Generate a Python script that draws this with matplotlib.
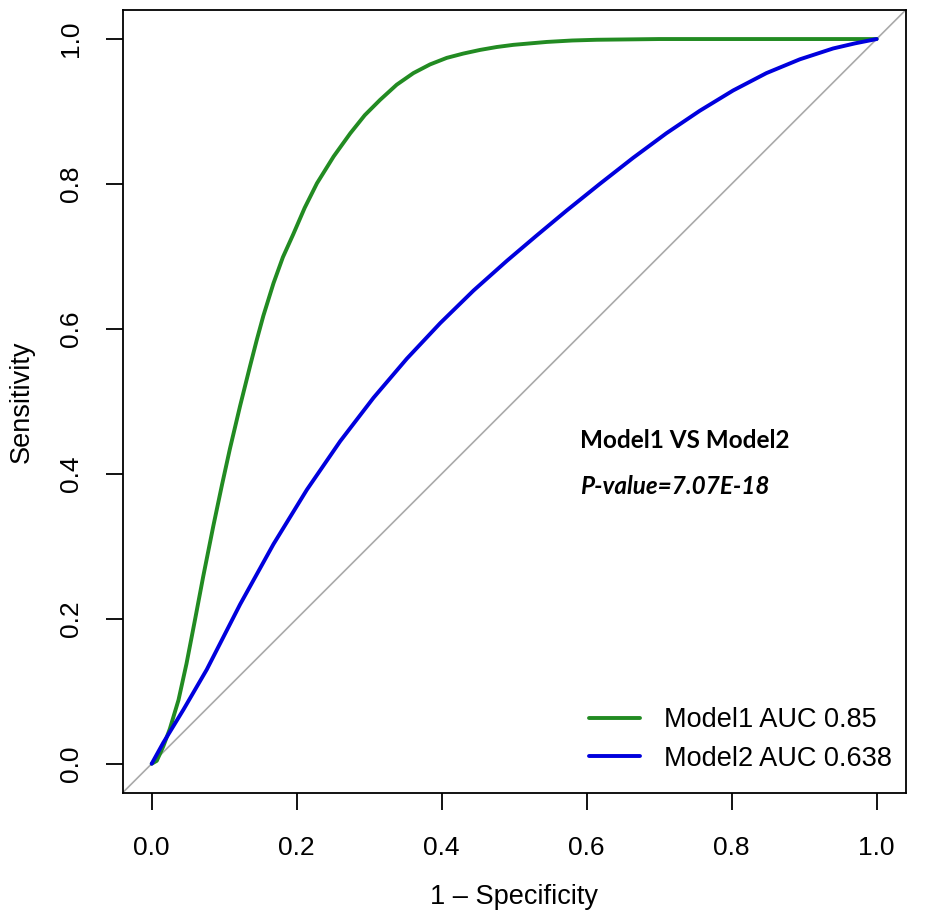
import matplotlib
matplotlib.use("Agg")
import matplotlib.pyplot as plt

# Data
model1_fpr = [0.0, 0.007, 0.016, 0.025, 0.037, 0.048, 0.060, 0.071, 0.085, 0.097,
              0.108, 0.122, 0.136, 0.145, 0.154, 0.168, 0.181, 0.195, 0.211, 0.228,
              0.251, 0.274, 0.294, 0.315, 0.338, 0.361, 0.384, 0.407, 0.430, 0.453,
              0.476, 0.499, 0.545, 0.580, 0.614, 0.700, 1.0]
model1_tpr = [0.0, 0.004, 0.024, 0.048, 0.088, 0.138, 0.200, 0.258, 0.328, 0.385,
              0.435, 0.494, 0.550, 0.585, 0.618, 0.663, 0.699, 0.730, 0.767, 0.801,
              0.838, 0.870, 0.895, 0.916, 0.937, 0.953, 0.965, 0.974, 0.980, 0.985,
              0.989, 0.992, 0.996, 0.998, 0.999, 1.0, 1.0]

model2_fpr = [0.0, 0.016, 0.044, 0.076, 0.122, 0.168, 0.214, 0.260, 0.306, 0.352,
              0.398, 0.444, 0.490, 0.530, 0.572, 0.618, 0.664, 0.710, 0.756, 0.802,
              0.848, 0.894, 0.940, 0.970, 1.0]
model2_tpr = [0.0, 0.029, 0.075, 0.130, 0.220, 0.303, 0.378, 0.445, 0.505, 0.559,
              0.608, 0.653, 0.694, 0.728, 0.763, 0.800, 0.836, 0.870, 0.901, 0.929,
              0.953, 0.972, 0.987, 0.994, 1.0]

legend_labels = ["Model1 AUC 0.85", "Model2 AUC 0.638"]
annot_title = "Model1 VS Model2"
annot_p = "P-value=7.07E-18"
ticks = [0.0, 0.2, 0.4, 0.6, 0.8, 1.0]
tick_labels = ["0.0", "0.2", "0.4", "0.6", "0.8", "1.0"]

plt.rcParams['font.family'] = ['Liberation Sans', 'DejaVu Sans']

fig = plt.figure(figsize=(9.26, 9.14), dpi=100)
ax = fig.add_axes([0.1325, 0.1327, 0.978 - 0.1325, 0.989 - 0.1327])

ax.axline((0, 0), (1, 1), color="#aaaaaa", lw=1.2, zorder=1)
ax.plot(model1_fpr, model1_tpr, color="#228b22", lw=2.8, label=legend_labels[0],
        solid_capstyle="round", solid_joinstyle="round", zorder=3)
ax.plot(model2_fpr, model2_tpr, color="#0000dd", lw=2.8, label=legend_labels[1],
        solid_capstyle="round", solid_joinstyle="round", zorder=3)

ax.set_xlim(-0.04, 1.04)
ax.set_ylim(-0.04, 1.04)
ax.set_xticks(ticks)
ax.set_xticklabels(tick_labels)
ax.set_yticks(ticks)
ax.set_yticklabels(tick_labels, rotation=90, va="center")
ax.tick_params(axis="both", direction="out", length=12, width=1.3, labelsize=19,
               color="black")
ax.tick_params(axis="x", pad=19)
ax.tick_params(axis="y", pad=16.5)
for s in ax.spines.values():
    s.set_linewidth(1.3)

ax.set_xlabel("1 \u2013 Specificity", fontsize=19.5, labelpad=17.6)
ax.set_ylabel("Sensitivity", fontsize=19.5, labelpad=17.5)

ax.text(0.591, 0.446, annot_title, fontsize=17.5, fontweight="bold",
        family=["Lato", "DejaVu Sans"], va="center", ha="left")
ax.text(0.591, 0.383, annot_p, fontsize=17.5, fontweight="bold", fontstyle="italic",
        family=["Lato", "DejaVu Sans"], va="center", ha="left")

leg = ax.legend(loc="lower right", bbox_to_anchor=(0.996, 0.0132), fontsize=19.5,
                frameon=False, handlelength=1.88, handletextpad=0.89,
                labelspacing=0.46, borderaxespad=0.0, borderpad=0.4)

fig.savefig("out.png", dpi=100)
